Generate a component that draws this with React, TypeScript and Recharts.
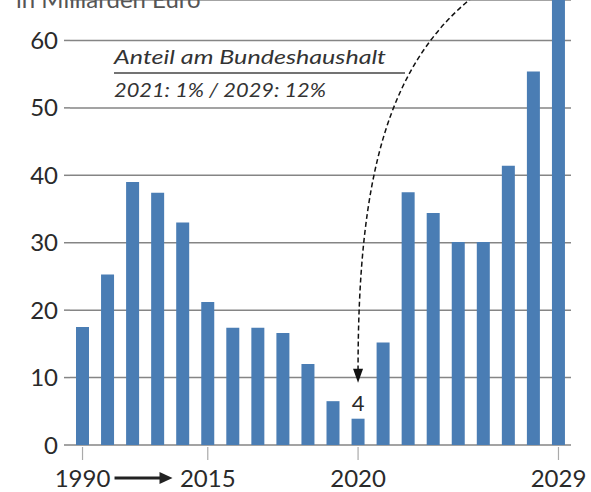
import { BarChart, Bar, XAxis, YAxis, CartesianGrid, LabelList } from "recharts";

// one label per bar; only the labelled ones get a tick
const categories = [
  "1990", "", "", "", "", "2015", "", "", "", "",
  "", "2020", "", "", "", "", "", "", "", "2029",
];
const values = [
  17.5, 25.3, 39, 37.4, 33, 21.2, 17.4, 17.4, 16.6, 12,
  6.5, 3.9, 15.2, 37.5, 34.4, 30.1, 30.1, 41.4, 55.4, 66,
];
const yTicks = [0, 10, 20, 30, 40, 50, 60];
const highlightIndex = 11;
const highlightLabel = "4";

const data = values.map((v, i) => ({ i, label: categories[i], value: v }));

const FONT = "Lato, 'Open Sans', sans-serif";
const BLUE = "#4A7DB4";
const GRID = "#858585";

function XTick({ x, y, payload }: any) {
  const label = categories[payload.value];
  if (!label) return null;
  return (
    <g>
      <line x1={x} y1={y + 2} x2={x} y2={y + 15} stroke="#aaa" strokeWidth={1.2} />
      <text x={x} y={y + 42} textAnchor="middle" fontFamily={FONT} fontSize={24} fill="#2a2a2a">
        {label}
      </text>
      {payload.value === 0 && (
        <g>
          <line x1={x + 32} y1={y + 33} x2={x + 80} y2={y + 33} stroke="#222" strokeWidth={3} />
          <path d={`M${x + 90},${y + 33} L${x + 77},${y + 27} L${x + 77},${y + 39} Z`} fill="#222" />
        </g>
      )}
    </g>
  );
}

function HighlightLabel(props: any) {
  const { x, y, width, index } = props;
  if (index !== highlightIndex) return null;
  const cx = x + width / 2;
  return (
    <g>
      <text x={cx} y={y - 8} textAnchor="middle" fontFamily={FONT} fontSize={22} fill="#2a2a2a">
        {highlightLabel}
      </text>
      <path
        d={`M${cx},${y - 48} C${cx},${y - 238} ${cx + 28},${y - 358} ${cx + 123},${y - 428}`}
        fill="none"
        stroke="#111"
        strokeWidth={1.5}
        strokeDasharray="5 3"
      />
      <path d={`M${cx},${y - 36} L${cx - 5},${y - 50} L${cx + 5},${y - 50} Z`} fill="#111" />
    </g>
  );
}

export default function App() {
  return (
    <div style={{ position: "absolute", left: 0, top: 0, width: 591, height: 492, background: "#fff" }}>
      <BarChart
        width={591}
        height={492}
        data={data}
        margin={{ top: 0, right: 20, bottom: 0, left: 0 }}
        barSize={13}
      >
        <CartesianGrid vertical={false} stroke={GRID} strokeWidth={1.5} />
        <XAxis
          dataKey="i"
          type="category"
          interval={0}
          height={47}
          axisLine={false}
          tickLine={false}
          tickSize={0}
          tickMargin={0}
          tick={<XTick />}
        />
        <YAxis
          domain={[0, 66]}
          ticks={yTicks}
          width={70}
          axisLine={false}
          tickLine={{ stroke: GRID, strokeWidth: 1.5 }}
          tickSize={6}
          tickMargin={6}
          tick={{ fontFamily: FONT, fontSize: 24, fill: "#2a2a2a" }}
          allowDataOverflow
        />
        <Bar dataKey="value" fill={BLUE} isAnimationActive={false}>
          <LabelList dataKey="value" content={<HighlightLabel />} />
        </Bar>
      </BarChart>
      <svg
        width={591}
        height={492}
        style={{ position: "absolute", left: 0, top: 0, pointerEvents: "none" }}
      >
        <text x={16} y={8} fontFamily={FONT} fontSize={24} fill="#555">
          in Milliarden Euro
        </text>
        <text
          x={114}
          y={64}
          fontFamily={FONT}
          fontStyle="italic"
          fontSize={20}
          fill="#333"
          textLength={272}
          lengthAdjust="spacingAndGlyphs"
        >
          Anteil am Bundeshaushalt
        </text>
        <line x1={114} y1={73} x2={405} y2={73} stroke="#444" strokeWidth={1.5} />
        <text
          x={114}
          y={97}
          fontFamily={FONT}
          fontStyle="italic"
          fontSize={20}
          fill="#333"
          textLength={212}
          lengthAdjust="spacingAndGlyphs"
        >
          2021: 1% / 2029: 12%
        </text>
      </svg>
    </div>
  );
}
